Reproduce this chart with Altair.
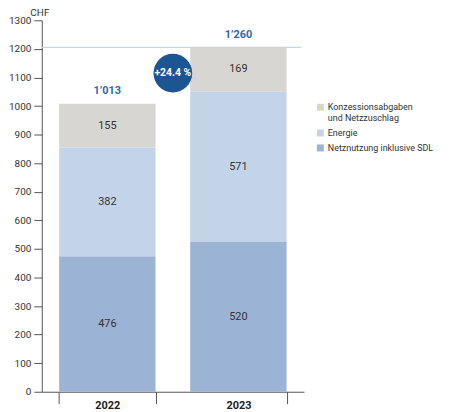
import altair as alt
import pandas as pd

# Netznutzung / Energie / Konzessionsabgaben per year
years = ["2022", "2022", "2022", "2023", "2023", "2023"]
parts = ["Netznutzung inklusive SDL", "Energie", "Konzessionsabgaben und Netzzuschlag"] * 2
order = [1, 2, 3, 1, 2, 3]
# bar heights as drawn in the picture
heights = [474, 381, 153, 524, 528, 153]
# printed values
labels = ["476", "382", "155", "520", "571", "169"]

total_years = ["2022", "2023"]
total_labels = ["1\u2019013", "1\u2019260"]
total_heights = [1008, 1205]

change_label = "+24.4 %"
change_pos = 1115

legend_order = ["Konzessionsabgaben und Netzzuschlag", "Energie", "Netznutzung inklusive SDL"]
legend_colors = ["#d8d6d2", "#c3d4e9", "#9bb3d5"]

font = "Roboto"

df = pd.DataFrame({"Jahr": years, "Teil": parts, "o": order, "h": heights, "label": labels})
totals = pd.DataFrame({"Jahr": total_years, "h": total_heights, "label": total_labels})

x = alt.X("Jahr:N", title=None,
          scale=alt.Scale(paddingInner=0.265, paddingOuter=0.1325),
          axis=alt.Axis(labelAngle=0, tickBand="extent", tickSize=12, tickColor="#555",
                        domainColor="#555", labelFontWeight="bold", labelFontSize=11,
                        labelColor="#222", labelPadding=-4, labelFont=font))
y_axis = alt.Axis(values=list(range(0, 1301, 100)), format="d", tickSize=8, tickColor="#555",
                  domainColor="#555", labelFontSize=10, labelColor="#333",
                  labelPadding=3, labelFont=font, grid=False, labelOverlap=False,
                  title="CHF", titleAngle=0, titleAlign="left", titleBaseline="bottom",
                  titleX=-12, titleY=-3,
                  titleFontWeight="normal", titleFontSize=10, titleColor="#333",
                  titleFont=font)
y_scale = alt.Scale(domain=[0, 1300], nice=False)


def ycol(field):
    return alt.Y(field, axis=y_axis, scale=y_scale)


base = alt.Chart(df).transform_stack(
    stack="h", groupby=["Jahr"], sort=[alt.SortField("o")], as_=["y0", "y1"]
).transform_calculate(mid="(datum.y0 + datum.y1) / 2")

bars = base.mark_bar().encode(
    x=x,
    y=ycol("y0:Q"),
    y2="y1:Q",
    color=alt.Color("Teil:N", sort=legend_order,
                    scale=alt.Scale(domain=legend_order, range=legend_colors),
                    legend=alt.Legend(title=None, orient="none", legendX=276, legendY=83,
                                      symbolType="square", symbolSize=49,
                                      symbolStrokeWidth=0, labelFontSize=9,
                                      labelColor="#333", labelFont=font, rowPadding=5,
                                      labelLimit=300, labelOffset=3,
                                      labelExpr="datum.label == 'Konzessionsabgaben und Netzzuschlag' ? ['Konzessionsabgaben', 'und Netzzuschlag'] : datum.label")),
)

seg_text = base.mark_text(fontSize=11, color="#333", font=font).encode(
    x=x, y=ycol("mid:Q"), text="label:N"
)

tot_text = alt.Chart(totals).mark_text(fontSize=11, fontWeight="bold", color="#2f6aaa",
                                       font=font, dy=-13).encode(
    x=x, y=ycol("h:Q"), text="label:N"
)

ref_line = alt.Chart(totals).transform_filter("datum.Jahr == '2023'").mark_rule(
    color="#c5d6e8", strokeWidth=1.2
).encode(y=ycol("h:Q"), x=alt.value(0), x2=alt.value(261))

bubble = alt.Chart(pd.DataFrame({"v": [change_pos], "t": [change_label]}))
circle = bubble.mark_circle(color="#1b5592", opacity=1, size=1520).encode(
    x=alt.value(132), y=ycol("v:Q")
)
circle_text = bubble.mark_text(color="white", fontWeight="bold", fontSize=10.5, font=font).encode(
    x=alt.value(132), y=ycol("v:Q"), text="t:N"
)

chart = alt.layer(ref_line, bars, seg_text, tot_text, circle, circle_text).properties(
    width=264, height=374,
    autosize=alt.AutoSizeParams(type="none"),
    padding={"left": 34, "top": 11, "right": 139, "bottom": 20},
).configure_view(stroke=None)

chart.save("out.html", embed_options={"renderer": "svg", "actions": False})
